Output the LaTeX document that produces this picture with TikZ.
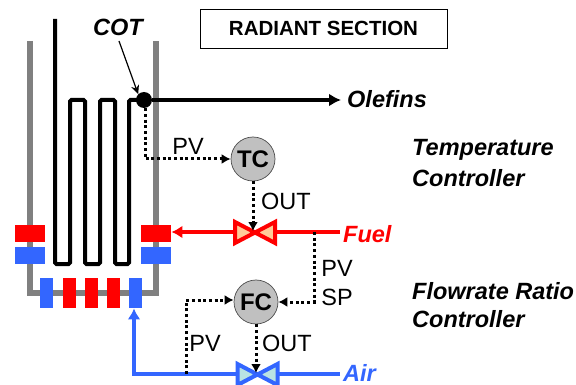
\documentclass[tikz,border=0pt]{standalone}
\usepackage{fontspec}
\setmainfont{Liberation Sans}
\usetikzlibrary{arrows.meta}
\definecolor{airblue}{HTML}{3366FF}
\definecolor{wallgray}{HTML}{808080}
\definecolor{ctrlgray}{HTML}{C0C0C0}
\definecolor{fuelfill}{HTML}{FFCC99}
\definecolor{airfill}{HTML}{B9E3E3}
\begin{document}
\begin{tikzpicture}[x=1pt,y=-1pt,
    txt/.style={font=\fontsize{23.5}{26}\selectfont,inner sep=0pt},
    boldtxt/.style={txt,font=\fontsize{20.5}{24}\selectfont\bfseries},
    itxt/.style={txt,font=\fontsize{23.5}{26}\selectfont\bfseries\itshape},
    ctrl/.style={circle,draw=black!70,line width=0.7pt,fill=ctrlgray,minimum size=44pt,inner sep=0pt,font=\fontsize{24}{26}\selectfont\bfseries},
    burnerh/.style={minimum width=30.5pt,minimum height=17pt,inner sep=0pt},
    burnerv/.style={minimum width=13pt,minimum height=30.5pt,inner sep=0pt},
    signal/.style={line width=3pt,dash pattern=on 3pt off 2.7pt,-{Latex[length=9pt,width=10pt]}}]
    \useasboundingbox (0,0) rectangle (576,385);

    % Furnace wall
    \draw[wallgray,line width=6.5pt,line join=miter] (30,41) -- (30,293) -- (156,293) -- (156,41);

    % Coil
    \draw[line width=4pt,rounded corners=1.5pt] (55,19) -- (55,264) -- (70,264) -- (70,100) -- (85,100) -- (85,264) -- (100,264) -- (100,100) -- (115,100) -- (115,264) -- (129,264) -- (129,100) -- (144,100);

    % Burners
    \node[burnerh,fill=red] (redL) at (30,233.5) {};
    \node[burnerh,fill=red] (redR) at (156,233.5) {};
    \node[burnerh,fill=airblue] (blueL) at (30,255.5) {};
    \node[burnerh,fill=airblue] (blueR) at (156,255.5) {};
    \foreach \x/\c [count=\i] in {46.5/airblue,69/red,91.5/red,113.5/red,135.5/airblue} {
        \node[burnerv,fill=\c] (floor\i) at (\x,293) {};
    }

    % Controllers and valves
    \node[ctrl] (TC) at (253,159) {TC};
    \node[ctrl] (FC) at (256,302) {FC};
    \coordinate (fuelvalve) at (255,232);
    \coordinate (airvalve) at (257.5,374);
    \coordinate (fueltap) at (314,232);
    \coordinate (airtap) at (186,374);
    \coordinate (airbend) at (134,374);
    \coordinate (fcbend) at (314,302);
    \coordinate (pvbendA) at (145,159);
    \coordinate (pvbendB) at (186,300);

    % Outlet
    \node[circle,fill=black,minimum size=16pt,inner sep=0pt] (COTdot) at (144,100) {};
    \node[itxt,anchor=west] (Olefins) at (347,99) {Olefins};
    \draw[line width=4pt,-{Latex[length=12pt,width=13pt]}] (COTdot) -- (341,100);
    \node[itxt] (COT) at (118,27) {COT};
    \draw[line width=1.2pt,-{Stealth[length=9pt,width=8pt]}] (119,41) -- (COTdot.north west);

    % Fuel line
    \node[itxt,anchor=west,text=red] (Fuel) at (343,234) {Fuel};
    \draw[red,line width=4pt,-{Latex[length=11pt,width=13pt]}] (340,232) -- (redR.east |- fuelvalve);
    \draw[red,line width=4pt,fill=fuelfill,line join=miter] (fuelvalve) ++(-20,-10) -- ++(0,21) -- ++(40,-21) -- ++(0,21) -- cycle;

    % Air line
    \node[itxt,anchor=west,text=airblue] (Air) at (343,373) {Air};
    \draw[airblue,line width=4pt,-{Latex[length=11pt,width=13pt]}] (340,374) -- (airbend) -- (floor5.south -| airbend);
    \draw[airblue,line width=4pt,fill=airfill,line join=miter] (airvalve) ++(-20,-10) -- ++(0,21) -- ++(40,-21) -- ++(0,21) -- cycle;

    % Signals
    \draw[signal] (COTdot.south) ++(1,0) -- (pvbendA) -- (TC.west);
    \draw[signal] (TC.south) -- (253,231);
    \draw[signal] (fueltap) -- (fcbend) -- (FC.east);
    \draw[signal] (FC.south) -- (256,373);
    \draw[signal] (airtap) -- (pvbendB) -- (FC.west |- pvbendB);

    % Labels
    \node[txt] (PVtc) at (188,146) {PV};
    \node[txt] (OUTtc) at (286,201) {OUT};
    \node[txt] (PVfuel) at (337,268) {PV};
    \node[txt] (SPfuel) at (337,297) {SP};
    \node[txt] (PVair) at (205,343) {PV};
    \node[txt] (OUTfc) at (287,343) {OUT};
    \node[boldtxt,draw=black,line width=0.8pt,minimum width=247pt,minimum height=39pt] (title) at (323.5,28.5) {RADIANT SECTION};
    \node[itxt,anchor=west] (tempA) at (412,150) {Temperature};
    \node[itxt,anchor=west] (tempB) at (412,178) {Controller};
    \node[itxt,anchor=west] (flowA) at (412,291) {Flowrate Ratio};
    \node[itxt,anchor=west] (flowB) at (412,319) {Controller};
\end{tikzpicture}
\end{document}
